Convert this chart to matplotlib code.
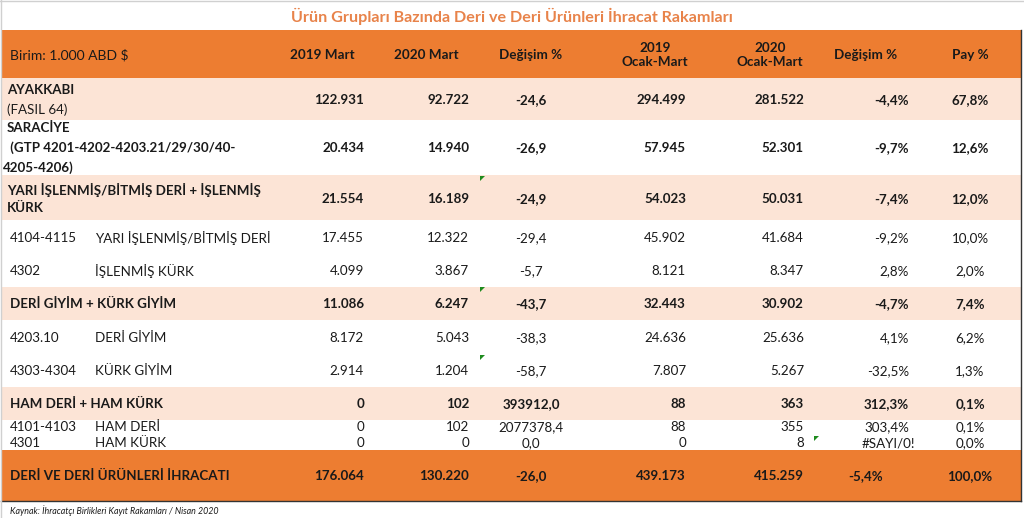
import matplotlib.pyplot as plt
from matplotlib.patches import Rectangle, Polygon

plt.rcParams['font.family'] = ['Lato', 'DejaVu Sans']

title = "Ürün Grupları Bazında Deri ve Deri Ürünleri İhracat Rakamları"
unit_label = "Birim: 1.000 ABD $"
headers = ["2019 Mart", "2020 Mart", "Değişim %", "2019\nOcak-Mart", "2020\nOcak-Mart", "Değişim %", "Pay %"]
source = "Kaynak: İhracatçı Birlikleri Kayıt Rakamları / Nisan 2020"

# row labels: (code, name)
codes = ["AYAKKABI\n(FASIL 64)", "SARACİYE\n (GTP 4201-4202-4203.21/29/30/40-\n4205-4206)",
         "YARI İŞLENMİŞ/BİTMİŞ DERİ + İŞLENMİŞ\nKÜRK", "4104-4115", "4302",
         "DERİ GİYİM + KÜRK GİYİM", "4203.10", "4303-4304", "HAM DERİ + HAM KÜRK",
         "4101-4103", "4301", "DERİ VE DERİ ÜRÜNLERİ İHRACATI"]
names = ["", "", "", "YARI İŞLENMİŞ/BİTMİŞ DERİ", "İŞLENMİŞ KÜRK", "", "DERİ GİYİM",
         "KÜRK GİYİM", "", "HAM DERİ", "HAM KÜRK", ""]
row_kind = ["group", "white_group", "group", "item", "item", "group", "item", "item",
            "group", "item", "item", "total"]

mart_2019 = [122931, 20434, 21554, 17455, 4099, 11086, 8172, 2914, 0, 0, 0, 176064]
mart_2020 = [92722, 14940, 16189, 12322, 3867, 6247, 5043, 1204, 102, 102, 0, 130220]
mart_chg = [-24.6, -26.9, -24.9, -29.4, -5.7, -43.7, -38.3, -58.7, 393912.0, 2077378.4, 0.0, -26.0]
q1_2019 = [294499, 57945, 54023, 45902, 8121, 32443, 24636, 7807, 88, 88, 0, 439173]
q1_2020 = [281522, 52301, 50031, 41684, 8347, 30902, 25636, 5267, 363, 355, 8, 415259]
q1_chg = [-4.4, -9.7, -7.4, -9.2, 2.8, -4.7, 4.1, -32.5, 312.3, 303.4, None, -5.4]
share = [67.8, 12.6, 12.0, 10.0, 2.0, 7.4, 6.2, 1.3, 0.1, 0.1, 0.0, 100.0]

# layout (pixels)
row_top = [78, 120, 175, 220, 255, 287, 320, 353, 387, 420, 435, 450]
row_bot = [120, 175, 220, 255, 287, 320, 353, 387, 420, 435, 450, 501]
row_y = [100, 148, 199, 238, 271, 304, 338, 371, 404, 427, 443, 476]
label_y = [[90, 110], [128, 148, 168], [190, 208]]

ORANGE = "#ED7D31"
PINK = "#FCE4D6"
TXT = "#1a1a1a"


def thousands(v):
    return f"{v:,}".replace(",", ".")


def dec(v, pct=False):
    if v is None:
        return "#SAYI/0!"
    s = f"{v:.1f}".replace(".", ",")
    return s + ("%" if pct else "")


fig = plt.figure(figsize=(10.24, 5.18), dpi=100)
ax = fig.add_axes([0, 0, 1, 1])
ax.set_xlim(0, 1024)
ax.set_ylim(518, 0)
ax.axis("off")

ax.text(512, 16, title, ha="center", va="center", fontsize=11.6, fontweight="bold", color="#E8834A")

# header
ax.add_patch(Rectangle((1, 30), 1020, 48, color=ORANGE, lw=0))
ax.text(10, 55, unit_label, ha="left", va="center", fontsize=10, color=TXT)
head_x = [322, 426, 531, 655, 770, 866, 970]
for hx, h in zip(head_x, headers):
    ax.text(hx, 55, h, ha="center", va="center", fontsize=9.7, fontweight="bold",
            color=TXT, linespacing=1.15)

# value column positions
cols = [(364, "right"), (469, "right"), (531, "center"), (686, "right"),
        (804, "right"), (909, "right"), (970, "center")]

for i in range(len(codes)):
    kind = row_kind[i]
    if kind == "group":
        ax.add_patch(Rectangle((1, row_top[i]), 1020, row_bot[i] - row_top[i], color=PINK, lw=0))
    elif kind == "total":
        ax.add_patch(Rectangle((1, row_top[i]), 1020, row_bot[i] - row_top[i], color=ORANGE, lw=0))
    bold = "normal" if kind == "item" else "bold"
    fs = 9.6

    if i < 3:
        for j, line in enumerate(codes[i].split("\n")):
            w = "normal" if (i == 0 and j == 1) else "bold"
            lx = 3 if (i == 1 and j == 2) else 7
            ax.text(lx, label_y[i][j], line, ha="left", va="center", fontsize=fs,
                    fontweight=w, color=TXT)
    else:
        ax.text(10, row_y[i], codes[i], ha="left", va="center", fontsize=fs,
                fontweight=bold, color=TXT)
        if names[i]:
            ax.text(95, row_y[i], names[i], ha="left", va="center", fontsize=fs,
                    fontweight=bold, color=TXT)

    vals = [thousands(mart_2019[i]), thousands(mart_2020[i]), dec(mart_chg[i]),
            thousands(q1_2019[i]), thousands(q1_2020[i]), dec(q1_chg[i], True),
            dec(share[i], True)]
    for k, ((cx, ha), s) in enumerate(zip(cols, vals)):
        if kind == "total" and k == 5:
            cx, ha = 848, "left"
        if q1_chg[i] is None and k == 5:
            ha = "right"
            cx = 915
        ax.text(cx, row_y[i], s, ha=ha, va="center", fontsize=fs, fontweight=bold, color=TXT)

# small green error markers
for mx, my in [(480, 176), (480, 287), (480, 355), (814, 436)]:
    ax.add_patch(Polygon([(mx, my), (mx + 5, my), (mx, my + 5)], color="#1E8B1E", lw=0))

# borders
ax.plot([1021, 1021], [30, 501], color="#333333", lw=1)
ax.plot([1, 1021], [501, 501], color="#333333", lw=1)
ax.plot([0.5, 0.5], [0, 518], color="#d0d0d0", lw=1)
ax.plot([0, 1024], [0.5, 0.5], color="#d0d0d0", lw=1)

ax.text(10, 511, source, ha="left", va="center", fontsize=6.4, style="italic", color=TXT)

fig.savefig("out.png", dpi=100)
